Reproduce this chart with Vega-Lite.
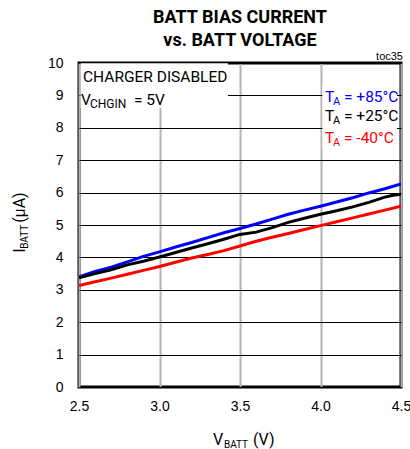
{
  "$schema": "https://vega.github.io/schema/vega-lite/v6.json",
  "width": 322,
  "height": 324,
  "autosize": {"type": "none"},
  "padding": {"left": 79, "top": 63, "right": 9, "bottom": 62},
  "background": "white",
  "title": {
    "text": ["BATT BIAS CURRENT", "vs. BATT VOLTAGE"],
    "font": "Roboto",
    "fontWeight": "bold",
    "fontSize": 18,
    "lineHeight": 23,
    "color": "black",
    "anchor": "middle",
    "offset": 1
  },
  "config": {
    "view": {"stroke": "black", "strokeWidth": 3},
    "axis": {
      "labelFont": "Liberation Sans",
      "labelFontSize": 14,
      "labelColor": "black",
      "labelOverlap": false,
      "labelFlush": false,
      "ticks": false,
      "domain": false,
      "title": null
    },
    "axisY": {"tickCount": 20, "labelOverlap": false, "labelPadding": 16, "grid": true, "gridColor": "black", "gridWidth": 1},
    "axisX": {"tickCount": 20, "labelPadding": 12, "grid": true, "gridColor": "#b4b4b4", "gridWidth": 2},
    "text": {"font": "Roboto"}
  },
  "datasets": {
    "curves": [
      {"v": 2.5, "i": 3.40, "t": "+85°C"}, {"v": 2.6, "i": 3.57, "t": "+85°C"}, {"v": 2.7, "i": 3.70, "t": "+85°C"}, {"v": 2.8, "i": 3.86, "t": "+85°C"}, {"v": 2.9, "i": 4.03, "t": "+85°C"}, {"v": 3.0, "i": 4.17, "t": "+85°C"}, {"v": 3.1, "i": 4.32, "t": "+85°C"}, {"v": 3.2, "i": 4.46, "t": "+85°C"}, {"v": 3.3, "i": 4.61, "t": "+85°C"}, {"v": 3.4, "i": 4.76, "t": "+85°C"}, {"v": 3.5, "i": 4.89, "t": "+85°C"}, {"v": 3.6, "i": 5.03, "t": "+85°C"}, {"v": 3.7, "i": 5.18, "t": "+85°C"}, {"v": 3.8, "i": 5.33, "t": "+85°C"}, {"v": 3.9, "i": 5.46, "t": "+85°C"}, {"v": 4.0, "i": 5.58, "t": "+85°C"}, {"v": 4.1, "i": 5.71, "t": "+85°C"}, {"v": 4.2, "i": 5.84, "t": "+85°C"}, {"v": 4.3, "i": 5.99, "t": "+85°C"}, {"v": 4.4, "i": 6.12, "t": "+85°C"}, {"v": 4.5, "i": 6.27, "t": "+85°C"},
      {"v": 2.5, "i": 3.37, "t": "+25°C"}, {"v": 2.6, "i": 3.50, "t": "+25°C"}, {"v": 2.7, "i": 3.62, "t": "+25°C"}, {"v": 2.8, "i": 3.77, "t": "+25°C"}, {"v": 2.9, "i": 3.88, "t": "+25°C"}, {"v": 3.0, "i": 4.01, "t": "+25°C"}, {"v": 3.1, "i": 4.15, "t": "+25°C"}, {"v": 3.2, "i": 4.29, "t": "+25°C"}, {"v": 3.3, "i": 4.42, "t": "+25°C"}, {"v": 3.4, "i": 4.56, "t": "+25°C"}, {"v": 3.5, "i": 4.71, "t": "+25°C"}, {"v": 3.6, "i": 4.78, "t": "+25°C"}, {"v": 3.7, "i": 4.92, "t": "+25°C"}, {"v": 3.8, "i": 5.08, "t": "+25°C"}, {"v": 3.9, "i": 5.21, "t": "+25°C"}, {"v": 4.0, "i": 5.33, "t": "+25°C"}, {"v": 4.1, "i": 5.44, "t": "+25°C"}, {"v": 4.2, "i": 5.56, "t": "+25°C"}, {"v": 4.3, "i": 5.70, "t": "+25°C"}, {"v": 4.4, "i": 5.86, "t": "+25°C"}, {"v": 4.45, "i": 5.92, "t": "+25°C"}, {"v": 4.5, "i": 5.95, "t": "+25°C"},
      {"v": 2.5, "i": 3.13, "t": "-40°C"}, {"v": 2.6, "i": 3.25, "t": "-40°C"}, {"v": 2.7, "i": 3.36, "t": "-40°C"}, {"v": 2.8, "i": 3.48, "t": "-40°C"}, {"v": 2.9, "i": 3.60, "t": "-40°C"}, {"v": 3.0, "i": 3.72, "t": "-40°C"}, {"v": 3.1, "i": 3.85, "t": "-40°C"}, {"v": 3.2, "i": 3.98, "t": "-40°C"}, {"v": 3.3, "i": 4.09, "t": "-40°C"}, {"v": 3.4, "i": 4.21, "t": "-40°C"}, {"v": 3.5, "i": 4.35, "t": "-40°C"}, {"v": 3.6, "i": 4.50, "t": "-40°C"}, {"v": 3.7, "i": 4.62, "t": "-40°C"}, {"v": 3.8, "i": 4.74, "t": "-40°C"}, {"v": 3.9, "i": 4.86, "t": "-40°C"}, {"v": 4.0, "i": 4.98, "t": "-40°C"}, {"v": 4.1, "i": 5.10, "t": "-40°C"}, {"v": 4.2, "i": 5.22, "t": "-40°C"}, {"v": 4.3, "i": 5.34, "t": "-40°C"}, {"v": 4.4, "i": 5.46, "t": "-40°C"}, {"v": 4.5, "i": 5.58, "t": "-40°C"}
    ],
    "one": [{"k": 1}]
  },
  "data": {"name": "one"},
  "layer": [
    {
      "data": {"name": "curves"},
      "mark": {"type": "line", "strokeWidth": 3, "clip": true},
      "encoding": {
        "x": {"field": "v", "type": "quantitative", "scale": {"domain": [2.5, 4.5], "nice": false},
              "axis": {"values": [2.5, 3.0, 3.5, 4.0, 4.5], "tickCount": 20, "format": ".1f", "labelFlush": false}},
        "y": {"field": "i", "type": "quantitative", "scale": {"domain": [0, 10], "nice": false},
              "axis": {"values": [0, 1, 2, 3, 4, 5, 6, 7, 8, 9, 10], "tickCount": 20, "format": "d", "labelFlush": false}},
        "color": {"field": "t", "type": "nominal", "scale": {"domain": ["+85°C", "+25°C", "-40°C"], "range": ["#0000ff", "black", "#ff0000"]}, "legend": null},
        "order": {"field": "v"}
      }
    },
    {
      "mark": {"type": "rect", "fill": "white"},
      "encoding": {
        "x": {"datum": 2.51, "type": "quantitative"},
        "x2": {"datum": 3.425},
        "y": {"datum": 9.99, "type": "quantitative"},
        "y2": {"datum": 8.61}
      }
    },
    {
      "mark": {"type": "rect", "fill": "white"},
      "encoding": {
        "x": {"datum": 4.012, "type": "quantitative"},
        "x2": {"datum": 4.475},
        "y": {"datum": 9.38, "type": "quantitative"},
        "y2": {"datum": 7.4}
      }
    },
    {
      "mark": {"type": "text", "text": "CHARGER DISABLED", "fontSize": 15.5, "align": "left", "baseline": "alphabetic", "color": "black"},
      "encoding": {"x": {"datum": 2.525, "type": "quantitative"}, "y": {"datum": 9.41, "type": "quantitative"}}
    },
    {
      "mark": {"type": "text", "text": "V", "fontSize": 15.5, "align": "left", "baseline": "alphabetic", "color": "black"},
      "encoding": {"x": {"datum": 2.512, "type": "quantitative"}, "y": {"datum": 8.70, "type": "quantitative"}}
    },
    {
      "mark": {"type": "text", "text": "CHGIN", "fontSize": 12, "align": "left", "baseline": "alphabetic", "color": "black", "dx": 9, "dy": 3},
      "encoding": {"x": {"datum": 2.512, "type": "quantitative"}, "y": {"datum": 8.70, "type": "quantitative"}}
    },
    {
      "mark": {"type": "text", "text": "= 5V", "fontSize": 15.5, "align": "left", "baseline": "alphabetic", "color": "black", "dx": 53},
      "encoding": {"x": {"datum": 2.512, "type": "quantitative"}, "y": {"datum": 8.70, "type": "quantitative"}}
    },
    {
      "mark": {"type": "text", "text": "toc35", "fontSize": 11, "align": "right", "baseline": "alphabetic", "color": "black", "dx": 2, "dy": -3, "font": "Liberation Sans"},
      "encoding": {"x": {"datum": 4.5, "type": "quantitative"}, "y": {"datum": 10, "type": "quantitative"}}
    },
    {
      "mark": {"type": "text", "text": "T", "fontSize": 15.5, "align": "left", "baseline": "alphabetic", "color": "#0000ff"},
      "encoding": {"x": {"datum": 4.028, "type": "quantitative"}, "y": {"datum": 8.80, "type": "quantitative"}}
    },
    {
      "mark": {"type": "text", "text": "A", "fontSize": 11, "align": "left", "baseline": "alphabetic", "color": "#0000ff", "dx": 8, "dy": 3},
      "encoding": {"x": {"datum": 4.028, "type": "quantitative"}, "y": {"datum": 8.80, "type": "quantitative"}}
    },
    {
      "mark": {"type": "text", "text": "= +85°C", "fontSize": 15.5, "align": "left", "baseline": "alphabetic", "color": "#0000ff", "dx": 19},
      "encoding": {"x": {"datum": 4.028, "type": "quantitative"}, "y": {"datum": 8.80, "type": "quantitative"}}
    },
    {
      "mark": {"type": "text", "text": "T", "fontSize": 15.5, "align": "left", "baseline": "alphabetic", "color": "black"},
      "encoding": {"x": {"datum": 4.028, "type": "quantitative"}, "y": {"datum": 8.20, "type": "quantitative"}}
    },
    {
      "mark": {"type": "text", "text": "A", "fontSize": 11, "align": "left", "baseline": "alphabetic", "color": "black", "dx": 8, "dy": 3},
      "encoding": {"x": {"datum": 4.028, "type": "quantitative"}, "y": {"datum": 8.20, "type": "quantitative"}}
    },
    {
      "mark": {"type": "text", "text": "= +25°C", "fontSize": 15.5, "align": "left", "baseline": "alphabetic", "color": "black", "dx": 19},
      "encoding": {"x": {"datum": 4.028, "type": "quantitative"}, "y": {"datum": 8.20, "type": "quantitative"}}
    },
    {
      "mark": {"type": "text", "text": "T", "fontSize": 15.5, "align": "left", "baseline": "alphabetic", "color": "#ff0000"},
      "encoding": {"x": {"datum": 4.028, "type": "quantitative"}, "y": {"datum": 7.53, "type": "quantitative"}}
    },
    {
      "mark": {"type": "text", "text": "A", "fontSize": 11, "align": "left", "baseline": "alphabetic", "color": "#ff0000", "dx": 8, "dy": 3},
      "encoding": {"x": {"datum": 4.028, "type": "quantitative"}, "y": {"datum": 7.53, "type": "quantitative"}}
    },
    {
      "mark": {"type": "text", "text": "= -40°C", "fontSize": 15.5, "align": "left", "baseline": "alphabetic", "color": "#ff0000", "dx": 19},
      "encoding": {"x": {"datum": 4.028, "type": "quantitative"}, "y": {"datum": 7.53, "type": "quantitative"}}
    },
    {
      "mark": {"type": "text", "text": "V", "fontSize": 16, "align": "left", "baseline": "alphabetic", "color": "black"},
      "encoding": {"x": {"datum": 3.332, "type": "quantitative"}, "y": {"datum": -1.79, "type": "quantitative"}}
    },
    {
      "mark": {"type": "text", "text": "BATT", "fontSize": 10, "align": "left", "baseline": "alphabetic", "color": "black", "dx": 11, "dy": 3},
      "encoding": {"x": {"datum": 3.332, "type": "quantitative"}, "y": {"datum": -1.79, "type": "quantitative"}}
    },
    {
      "mark": {"type": "text", "text": "(V)", "fontSize": 16, "align": "left", "baseline": "alphabetic", "color": "black", "dx": 40},
      "encoding": {"x": {"datum": 3.332, "type": "quantitative"}, "y": {"datum": -1.79, "type": "quantitative"}}
    },
    {
      "mark": {"type": "text", "text": "I", "fontSize": 16, "align": "left", "baseline": "alphabetic", "color": "black", "angle": 270},
      "encoding": {"x": {"datum": 2.165, "type": "quantitative"}, "y": {"datum": 4.14, "type": "quantitative"}}
    },
    {
      "mark": {"type": "text", "text": "BATT", "fontSize": 10, "align": "left", "baseline": "alphabetic", "color": "black", "angle": 270, "dx": 4, "dy": 3},
      "encoding": {"x": {"datum": 2.165, "type": "quantitative"}, "y": {"datum": 4.14, "type": "quantitative"}}
    },
    {
      "mark": {"type": "text", "text": "(µA)", "fontSize": 16, "align": "left", "baseline": "alphabetic", "color": "black", "angle": 270, "dx": 30},
      "encoding": {"x": {"datum": 2.165, "type": "quantitative"}, "y": {"datum": 4.14, "type": "quantitative"}}
    }
  ]
}
